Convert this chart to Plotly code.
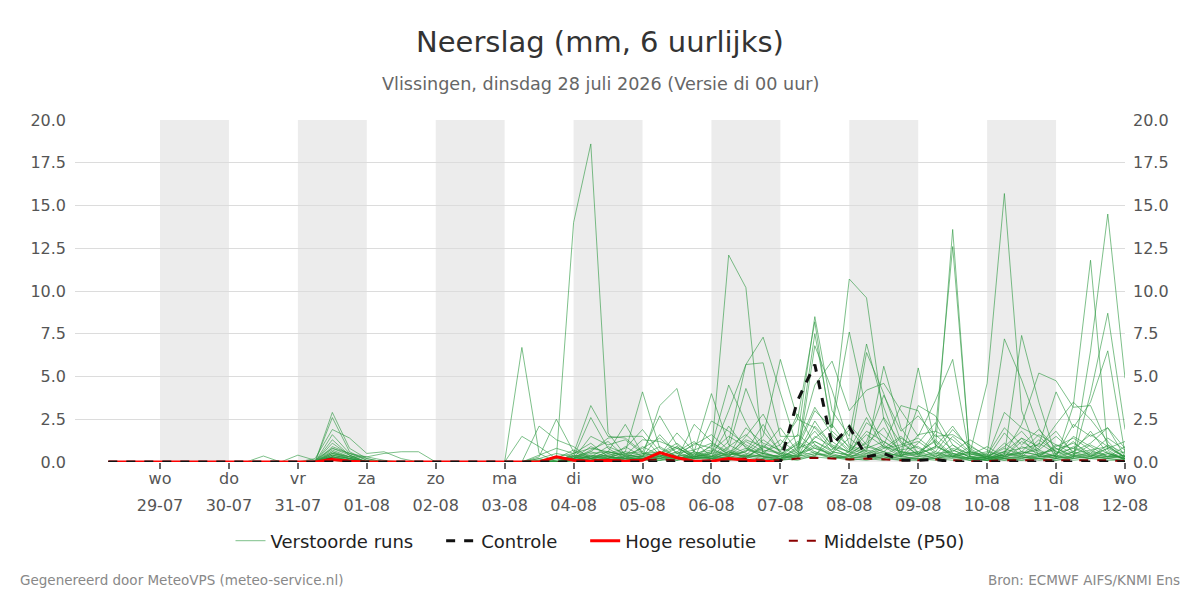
import plotly.graph_objects as go
import pandas as pd

# ---------------- data ----------------
start_time = "2026-07-28 06:00"
n_steps = 60  # 6-hourly, 28-07 06:00 .. 12-08 00:00
times = pd.date_range(start_time, periods=n_steps, freq="6h")

day_names = ["wo", "do", "vr", "za", "zo", "ma", "di", "wo", "do", "vr", "za", "zo", "ma", "di", "wo"]
day_dates = ["29-07", "30-07", "31-07", "01-08", "02-08", "03-08", "04-08", "05-08",
             "06-08", "07-08", "08-08", "09-08", "10-08", "11-08", "12-08"]
tick_days = pd.date_range("2026-07-29", "2026-08-12", freq="D")
shaded_days = ["2026-07-29", "2026-07-31", "2026-08-02", "2026-08-04",
               "2026-08-06", "2026-08-08", "2026-08-10"]

m01 = [0,0,0, 0,0,0,0, 0,0,0,0, 0,0.2,1.9,1.4, 0.5,0.6,0.2,0, 0,0,0,0, 0,0,0.1,0.2, 14.0,18.6,1.7,0.4, 0.3,0.6,0.2,2.2, 1.2,0.4,0.8,0.3, 0.2,0.6,7.5,2.0, 7.6,3.0,1.0,0.4, 3.3,2.7,1.0,0.2, 0.3,2.9,2.0,1.5, 0.6,0.2,4.0,8.7, 1.9]
m02 = [0,0,0, 0,0,0,0, 0,0,0,0, 0,0,2.9,0.8, 0.2,0,0,0, 0,0,0,0, 0,6.7,0.5,0, 0.1,0.3,0.9,0.5, 0.2,0.4,0.1,0.3, 0.5,3.0,5.7,7.3, 4.0,0.8,3.0,2.0, 10.7,9.6,2.5,0.3, 1.6,1.8,1.3,0.5, 4.6,15.7,3.0,0.3, 0.4,2.2,1.5,2.0, 0.3]
m03 = [0,0,0, 0,0,0,0, 0,0,0,0, 0,0,2.6,0.6, 0.1,0,0,0, 0,0,0,0, 0,0,2.1,1.3, 0.9,0.2,0.4,0.1, 0.3,0.2,0.6,0.2, 0.5,12.1,10.2,0.3, 0.4,0.2,6.8,4.2, 1.0,0.6,5.6,2.0, 0.5,0.8,13.6,0.2, 0.1,0.5,2.2,5.2, 4.75,3.2,3.3,1.0, 0.2]
m04 = [0,0,0, 0,0,0,0, 0,0,0,0, 0,0,1.6,0.5, 0.1,0,0,0, 0,0,0,0, 0,0,0.3,2.5, 0.6,0.2,0.1,0.3, 0.1,0.5,0.9,0.2, 0.3,1.2,5.7,5.8, 1.5,1.5,8.5,3.0, 1.5,6.9,3.2,0.5, 5.5,1.0,0.3,0.1, 0.2,0.4,7.4,3.5, 0.3,0.3,6.5,14.5, 4.9]
m05 = [0,0,0, 0,0,0,0, 0,0,0,0, 0,0,1.3,0.4, 0,0,0,0, 0,0,0,0, 0,0,0.4,0.8, 0.5,3.3,1.5,1.4, 0.6,0.3,0.2,0.5, 0.7,0.4,0.6,1.5, 6.0,2.5,8.2,1.5, 0.6,6.4,4.0,1.2, 0.4,1.8,12.6,0.3, 0.5,7.2,4.8,2.0, 0.2,3.3,11.8,0.7, 0.1]
m06 = [0,0,0, 0,0,0,0, 0,0,0,0, 0,0,1.1,0.4, 0,0,0,0, 0,0,0,0, 0,0,0.2,0.5, 0.3,2.6,0.8,0.2, 0.4,0.2,0.3,0.6, 4.0,1.0,0.5,0.3, 0.2,0.9,4.5,5.9, 3.0,4.2,4.6,3.0, 1.5,3.6,6.0,0.3, 0.2,0.6,0.8,1.0, 4.1,2.0,3.5,6.5, 0.5]
m07 = [0,0,0, 0,0,0,0, 0,0,0,0, 0,0,0.9,0.5, 0.2,0,0,0, 0,0,0,0, 0,0,0.1,0.3, 0.2,1.5,1.0,1.3, 0.5,0.3,0.8,0.4, 0.9,4.5,2.3,0.6, 1.0,2.5,2.0,0.8, 0.4,1.2,3.9,1.8, 2.7,1.5,1.6,1.0, 0.3,0.4,0.5,0.8, 2.2,3.5,2.5,1.2, 0.2]
m08 = [0,0,0, 0,0,0,0, 0,0,0,0, 0,0,0.7,0.3, 0,0,0,0, 0,0,0,0, 0,0,0,0.2, 0.3,0.6,1.4,1.5, 1.5,0.4,0.2,0.3, 0.2,0.8,4.3,1.8, 0.6,0.3,0.9,0.4, 0.3,0.5,1.0,3.3, 3.0,1.0,0.4,0.6, 0.4,2.0,1.0,1.9, 0.8,0.3,0.6,0.4, 0.2]
m09 = [0,0,0, 0,0,0,0, 0,0,0,0, 0,0,0.6,0.3, 0,0,0,0, 0,0,0,0, 0,0,0,0, 0.2,0.5,0.6,2.2, 0.5,0.3,0.9,0.2, 2.4,1.8,1.0,0.5, 0.3,0.7,1.8,0.6, 0.4,0.9,0.6,0.3, 0.5,1.3,0.4,0.2, 0.1,0.3,1.2,0.6, 0.3,0.9,0.4,0.2, 0.1]
m10 = [0,0,0, 0,0,0,0, 0,0,0,0, 0,0,0.5,0.2, 0,0,0,0, 0,0,0,0, 0,0,0,0.1, 0.2,0.3,0.4,0.6, 4.1,0.8,0.3,0.2, 0.3,0.4,0.6,2.2, 0.5,0.3,2.1,1.0, 0.6,1.8,1.2,0.5, 0.3,0.6,1.9,0.8, 0.2,1.1,0.4,0.3, 1.0,0.5,0.7,0.9, 0.3]
m11 = [0,0,0, 0,0,0,0, 0,0,0,0, 0,0,0.4,0.2, 0,0,0,0, 0,0,0,0, 0,0,0,0, 0.2,0.9,0.5,0.8, 1.9,0.6,0.2,0.4, 0.6,1.5,0.9,0.3, 0.2,0.8,1.2,0.6, 0.4,2.3,1.5,0.7, 0.9,0.3,0.8,0.5, 0.2,0.6,1.4,0.3, 0.5,1.2,0.3,0.8, 1.2]
m12 = [0,0,0, 0,0,0,0, 0,0,0.35,0, 0,0,0.3,0.2, 0,0,0,0, 0,0,0,0, 0,0,0,0.1, 0.4,0.2,0.6,0.3, 0.3,3.3,4.3,0.5, 0.2,0.5,1.3,0.9, 0.4,1.2,0.6,0.3, 0.2,0.8,2.6,1.1, 0.4,0.9,0.5,0.2, 0.3,0.8,0.4,1.3, 0.6,0.4,1.0,0.5, 0.2]
m13 = [0,0,0, 0,0,0,0, 0,0,0,0, 0.4,0.1,0.8,0.5, 0.3,0.1,0,0, 0,0,0,0, 0,0,0,0, 0.1,0.4,0.3,0.5, 0.6,2.7,1.0,0.4, 0.3,0.9,1.6,0.7, 0.5,0.3,1.4,2.2, 0.8,0.4,0.9,0.6, 0.3,1.6,0.7,0.3, 0.4,0.2,0.9,0.5, 0.7,1.1,0.5,0.3, 0.6]
m14 = [0,0,0, 0,0,0,0, 0,0,0,0, 0,0,0.5,0.3, 0.3,0.5,0.6,0.6, 0,0,0,0, 0,0,0,0.3, 0.5,0.8,0.6,0.4, 1.3,1.2,0.8,0.3, 0.6,0.4,2.0,1.1, 0.7,1.6,0.8,0.5, 1.4,0.6,0.4,0.9, 1.2,0.5,0.3,0.6, 0.2,0.4,0.6,1.6, 1.0,0.8,0.4,0.3, 0.4]
m15 = [0,0,0, 0,0,0,0, 0,0,0,0, 0,0,0.3,0.1, 0,0,0,0, 0,0,0,0, 0,1.5,0.9,0.2, 0.7,0.3,0.2,0.6, 0.4,0.9,0.3,0.2, 1.0,0.5,0.3,0.8, 2.0,0.6,0.4,1.2, 0.5,1.1,2.0,0.4, 0.6,0.3,1.0,0.4, 0.9,0.3,0.5,0.7, 0.3,0.6,1.8,0.5, 0.2]
m16 = [0,0,0, 0,0,0,0, 0,0,0,0, 0,0,0.3,0.1, 0,0,0,0, 0,0,0,0, 0,0,0,0, 0.1,0.4,0.2,0.3, 0.2,0.5,1.1,0.3, 0.4,0.2,0.7,0.5, 0.3,1.1,0.5,0.2, 0.6,0.3,0.8,1.5, 0.5,0.2,0.4,0.1, 0.2,0.3,0.6,0.4, 0.8,0.4,0.2,0.6, 0.1]
m17 = [0,0,0, 0,0,0,0, 0,0,0,0, 0,0,0.2,0.1, 0,0,0,0, 0,0,0,0, 0,0,0,0, 0.3,0.1,0.5,0.2, 0.1,0.3,0.6,1.2, 0.3,0.6,0.2,1.0, 0.4,0.2,1.5,0.9, 0.3,0.7,0.5,0.4, 0.6,1.2,0.3,0.2, 0.1,0.5,0.3,0.2, 0.4,1.5,0.9,0.3, 0.3]
m18 = [0,0,0, 0,0,0,0, 0,0,0,0, 0,0,0.2,0.1, 0,0,0,0, 0,0,0,0, 0,0,0.2,0, 0.2,0.6,0.3,0.1, 0.2,0.1,0.4,0.3, 0.5,0.3,1.2,0.6, 0.2,0.4,0.3,1.8, 0.9,0.5,0.3,0.2, 0.3,0.5,0.6,1.3, 0.7,0.2,0.3,0.1, 0.2,0.3,0.5,1.4, 0.7]
m19 = [0,0,0, 0,0,0,0, 0,0,0,0, 0,0,0.1,0, 0,0,0,0, 0,0,0,0, 0,0,0,0, 0,0.2,0.1,0.4, 0.3,0.2,0.1,0.6, 0.2,0.3,0.4,0.2, 0.1,0.5,0.8,0.4, 0.2,0.3,0.6,0.3, 0.2,0.4,0.3,0.5, 0.3,0.1,0.2,0.4, 0.2,0.6,0.3,0.2, 0.1]
m20 = [0,0,0, 0,0,0,0, 0,0,0,0, 0,0,0.1,0, 0,0,0,0, 0,0,0,0, 0,0,0,0, 0.1,0,0.3,0.2, 0.2,0.4,0.3,0.1, 0.1,0.6,0.3,0.4, 0.3,0.2,0.5,0.3, 0.2,0.4,0.2,0.6, 0.4,0.2,0.7,0.3, 0.1,0.2,0.4,0.2, 0.3,0.2,0.4,0.8, 0.3]
m21 = [0,0,0, 0,0,0,0, 0,0,0,0, 0,0,0.3,0.1, 0,0,0,0, 0,0,0,0, 0,0,0,0, 0,0.1,0.2,0.1, 0.1,0.2,0.5,0.2, 0.3,0.1,0.2,0.5, 0.2,0.4,1.0,0.3, 0.1,0.2,0.4,0.2, 0.2,0.1,0.3,0.2, 0.1,0.3,0.2,0.5, 0.2,0.4,0.2,0.3, 0.2]
m22 = [0,0,0, 0,0,0,0, 0,0,0,0, 0,0,0.2,0.1, 0,0,0,0, 0,0,0,0, 0,0,0,0, 0.1,0.2,0,0.1, 0.2,0.1,0.2,0.3, 0.2,0.3,0.1,0.2, 0.1,0.3,0.6,0.2, 0.3,0.2,0.1,0.4, 0.1,0.3,0.2,0.1, 0.2,0.1,0.3,0.2, 0.1,0.2,0.3,0.2, 0.4]
m23 = [0,0,0, 0,0,0,0, 0,0,0,0, 0,0,0.4,0.2, 0,0,0,0, 0,0,0,0, 0,0,0,0, 0.2,0.1,0.1,0, 0.1,0.1,0.2,0.1, 0.1,0.2,0.3,0.1, 0.2,0.1,0.4,0.5, 0.2,0.1,0.3,0.1, 0.2,0.2,0.1,0.3, 0.1,0.2,0.1,0.3, 0.4,0.1,0.2,0.1, 0.1]
m24 = [0,0,0, 0,0,0,0, 0,0,0,0, 0,0,0.3,0.1, 0,0,0,0, 0,0,0,0, 0,0,0,0, 0.1,0.1,0.3,0.2, 0.2,0.3,0.1,0.2, 0.2,0.1,0.4,0.3, 0.1,0.2,0.3,0.2, 0.4,0.3,0.2,0.1, 0.1,0.2,0.5,0.2, 0.3,0.2,0.1,0.2, 0.1,0.3,0.2,0.5, 0.2]
m25 = [0,0,0, 0,0,0,0, 0,0,0,0, 0,0,0.5,0.3, 0,0,0,0, 0,0,0,0, 0,0,0,0, 0.3,0.2,0.6,0.4, 0.8,1.4,0.5,1.0, 1.6,0.7,0.4,1.3, 0.6,2.8,1.0,0.5, 2.2,1.0,0.6,1.4, 0.8,0.4,1.5,0.6, 0.3,0.9,1.8,0.7, 1.5,0.6,1.1,2.0, 0.8]
m26 = [0,0,0, 0,0,0,0, 0,0,0,0, 0,0,0.8,0.4, 0,0,0,0, 0,0,0,0, 0,0,0,0, 0.5,1.1,0.3,0.2, 0.9,0.4,1.7,0.6, 0.3,2.1,0.8,0.5, 1.3,0.5,2.4,0.9, 0.6,1.6,0.9,0.3, 1.1,2.3,0.5,0.4, 0.6,0.3,1.4,0.9, 1.8,0.5,0.3,1.0, 0.5]
m27 = [0,0,0, 0,0,0,0, 0,0,0,0, 0,0,0.6,0.2, 0,0,0,0, 0,0,0,0, 0,0,0,0, 0.2,0.7,1.2,0.3, 0.5,0.6,0.3,1.1, 0.8,0.3,1.5,2.8, 0.9,0.4,1.2,0.7, 1.9,0.8,1.2,0.6, 0.5,0.9,2.1,0.7, 0.2,1.7,0.6,0.4, 0.9,1.4,0.7,0.3, 0.9]
m28 = [0,0,0, 0,0,0,0, 0,0,0,0, 0,0,0.4,0.2, 0,0,0,0, 0,0,0,0, 0,0,0,0, 0.4,0.3,0.2,0.9, 0.3,1.6,0.5,0.7, 1.1,0.6,0.3,0.9, 0.5,1.0,3.2,1.6, 0.7,2.6,0.8,1.0, 1.4,0.6,0.3,0.9, 0.4,0.6,0.3,1.1, 0.5,0.8,1.6,0.9, 0.3]

members = [m01, m02, m03, m04, m05, m06, m07, m08, m09, m10, m11, m12, m13, m14,
           m15, m16, m17, m18, m19, m20, m21, m22, m23, m24, m25, m26, m27, m28]

controle = [0,0,0, 0,0,0,0, 0,0,0,0, 0,0,0,0, 0,0,0,0, 0,0,0,0, 0,0,0,0, 0,0,0,0, 0,0,0,0, 0,0,0,0, 0,3.6,5.7,1.0, 2.05,0.3,0.5,0.1, 0.1,0.15,0,0, 0,0,0,0, 0,0,0,0, 0]
hoge_resolutie = [0,0,0, 0,0,0,0, 0,0,0,0, 0,0,0.15,0.05, 0,0,0,0, 0,0,0,0, 0,0,0,0.3, 0.1,0.05,0.1,0.05, 0.1,0.55,0.25,0.05, 0.05,0.2,0.1,0.05, 0]
middelste = [0,0,0, 0,0,0,0, 0,0,0,0, 0,0,0.2,0.05, 0,0,0,0, 0,0,0,0, 0,0,0,0, 0.05,0.1,0.1,0.1, 0.1,0.15,0.1,0.05, 0.1,0.15,0.2,0.1, 0.1,0.2,0.25,0.2, 0.15,0.2,0.15,0.1, 0.1,0.15,0.1,0.05, 0.05,0.1,0.1,0.1, 0.1,0.1,0.1,0.1, 0.05]

legend_names = ["Verstoorde runs", "Controle", "Hoge resolutie", "Middelste (P50)"]

# ---------------- figure ----------------
FONT = "DejaVu Sans"
PAD = "\u00a0" * 4  # extra spacing between legend entries
fig = go.Figure()

for k, m in enumerate(members):
    fig.add_trace(go.Scatter(
        x=times, y=m, mode="lines", name=legend_names[0] + PAD, legendgroup="ens",
        showlegend=(k == 0), legendrank=1, hoverinfo="skip",
        line=dict(color="rgba(40,150,60,0.6)", width=1)))

fig.add_trace(go.Scatter(x=times, y=middelste, mode="lines", name=legend_names[3],
                         legendrank=4, line=dict(color="#8b0000", width=2, dash="dash")))
fig.add_trace(go.Scatter(x=times[:len(hoge_resolutie)], y=hoge_resolutie, mode="lines",
                         name=legend_names[2] + PAD, legendrank=3,
                         line=dict(color="#ff0000", width=3)))
fig.add_trace(go.Scatter(x=times, y=controle, mode="lines", name=legend_names[1] + PAD,
                         legendrank=2, line=dict(color="#111111", width=3, dash="dash")))
# invisible traces to activate the right-hand y axis and the day-name x axis
fig.add_trace(go.Scatter(x=[times[0]], y=[0], yaxis="y2", mode="markers",
                         marker=dict(opacity=0), showlegend=False, hoverinfo="skip"))
fig.add_trace(go.Scatter(x=[times[0]], y=[0], xaxis="x2", mode="markers",
                         marker=dict(opacity=0), showlegend=False, hoverinfo="skip"))

shapes = []
for d in shaded_days:
    d0 = pd.Timestamp(d)
    shapes.append(dict(type="rect", xref="x", yref="paper", x0=d0, x1=d0 + pd.Timedelta(days=1),
                       y0=0, y1=1, fillcolor="#ececec", line=dict(width=0), layer="below"))

x_range = [pd.Timestamp("2026-07-27 18:24"), pd.Timestamp("2026-08-12 00:00")]
axis_font = dict(family=FONT, size=16, color="#555555")
fig.update_layout(
    width=1200, height=600,
    margin=dict(l=75, r=75, t=120, b=138),
    paper_bgcolor="white", plot_bgcolor="white",
    font=dict(family=FONT, size=16, color="#333333"),
    shapes=shapes,
    xaxis=dict(range=x_range, tickvals=tick_days, ticktext=day_dates, ticks="outside",
               ticklen=6, tickwidth=2, tickcolor="#666666", showgrid=False, zeroline=False,
               showline=False, tickfont=axis_font, ticklabelstandoff=23),
    xaxis2=dict(range=x_range, tickvals=tick_days, ticktext=day_names, overlaying="x",
                anchor="y", side="bottom", ticks="", showgrid=False, zeroline=False,
                showline=False, tickfont=axis_font, ticklabelstandoff=5),
    yaxis=dict(range=[0, 20], dtick=2.5, tick0=0, tickformat=".1f", gridcolor="#dcdcdc",
               gridwidth=1, zeroline=False, showline=False, tickfont=axis_font,
               ticklabelstandoff=8),
    yaxis2=dict(range=[0, 20], dtick=2.5, tick0=0, tickformat=".1f", overlaying="y",
                side="right", showgrid=False, zeroline=False, showline=False,
                tickfont=axis_font, ticklabelstandoff=7),
    legend=dict(orientation="h", x=0.5, xanchor="center", y=-0.231, yanchor="middle",
                font=dict(family=FONT, size=18, color="#222222"), bgcolor="rgba(0,0,0,0)"),
    showlegend=True,
    annotations=[
        dict(text="Neerslag (mm, 6 uurlijks)", xref="paper", yref="paper", x=0.5,
             y=1.228, xanchor="center", yanchor="middle", showarrow=False,
             font=dict(family=FONT, size=29, color="#333333")),
        dict(text="Vlissingen, dinsdag 28 juli 2026 (Versie di 00 uur)", xref="paper",
             yref="paper", x=0.5, y=1.105, xanchor="center", yanchor="middle",
             showarrow=False, font=dict(family=FONT, size=17.6, color="#666666")),
        dict(text="Gegenereerd door MeteoVPS (meteo-service.nl)", xref="paper", yref="paper",
             x=-0.0543, y=-0.345, xanchor="left", yanchor="middle", showarrow=False,
             font=dict(family=FONT, size=13.5, color="#888888")),
        dict(text="Bron: ECMWF AIFS/KNMI Ens", xref="paper", yref="paper",
             x=1.0543, y=-0.345, xanchor="right", yanchor="middle", showarrow=False,
             font=dict(family=FONT, size=13.5, color="#888888")),
    ],
)

fig.write_html("out.html")
